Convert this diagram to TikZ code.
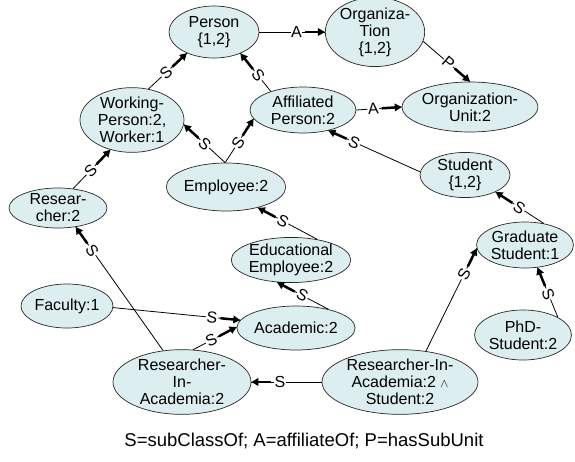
\documentclass[tikz,border=0pt]{standalone}
\usepackage{fontspec}
\setmainfont{Liberation Sans}
\usetikzlibrary{shapes.geometric,arrows.meta,calc}

\definecolor{classfill}{RGB}{221,238,240}
\definecolor{classline}{RGB}{40,40,40}

\tikzset{
  cls/.style={ellipse, draw=classline, line width=0.7pt, fill=classfill,
    inner sep=0pt, align=center, font=\fontsize{16}{17}\selectfont},
  thinlink/.style={line width=0.8pt, black},
  boldlink/.style={line width=2.5pt, black,
    -{Triangle[length=7pt,width=7.5pt]}},
  linklabel/.style={fill=white, inner sep=0.6pt,
    font=\fontsize{16}{16}\selectfont}
}

% thin line from #1 to #2, bold arrowhead part near #2, letter #3 between
\newcommand{\linkrel}[3]{%
  \draw[thinlink] (#1) -- (#2);
  \draw[boldlink] ($(#2)!20pt!(#1)$) -- (#2);
  \path ($(#2)!28.5pt!(#1)$) -- ($(#2)!30pt!(#1)$)
    node[pos=0, sloped, linklabel] {#3};
}

\begin{document}
\begin{tikzpicture}[x=1pt,y=-1pt]
\useasboundingbox (0,0) rectangle (575,461);

% classes
\node[cls, minimum width=90pt, minimum height=52pt] (person) at (214,32) {Person\\\{1,2\}};
\node[cls, minimum width=98pt, minimum height=60pt] (org) at (375,32) {Organiza-\\Tion\\\{1,2\}};
\node[cls, minimum width=104pt, minimum height=56pt] (wp) at (132,120) {Working-\\Person:2,\\Worker:1};
\node[cls, minimum width=106pt, minimum height=46pt] (aff) at (303,110) {Affiliated\\Person:2};
\node[cls, minimum width=114pt, minimum height=50pt] (ou) at (470,107) {Organization-\\Unit:2};
\node[cls, minimum width=114pt, minimum height=48pt] (emp) at (226,187) {Employee:2};
\node[cls, minimum width=98pt, minimum height=40pt] (res) at (58,208) {Resear-\\cher:2};
\node[cls, minimum width=90pt, minimum height=44pt] (stu) at (465,175) {Student\\\{1,2\}};
\node[cls, minimum width=114pt, minimum height=44pt] (edu) at (291,260) {Educational\\Employee:2};
\node[cls, minimum width=106pt, minimum height=44pt] (acad) at (296,328) {Academic:2};
\node[cls, minimum width=92pt, minimum height=44pt] (fac) at (67,306) {Faculty:1};
\node[cls, minimum width=138pt, minimum height=64pt] (ria) at (182,382) {Researcher-\\In-\\Academia:2};
\node[cls, minimum width=156pt, minimum height=64pt] (rias) at (400,382)
  {Researcher-In-\\Academia:2 {\fontsize{13}{13}\selectfont$\wedge$}\\Student:2};
\node[cls, minimum width=96pt, minimum height=46pt] (grad) at (525,245) {Graduate\\Student:1};
\node[cls, minimum width=94pt, minimum height=50pt] (phd) at (523,335) {PhD-\\Student:2};

% relations
\linkrel{person.east}{org.west}{A}
\linkrel{org.-11}{ou.north}{P}
\linkrel{wp.62}{person.-142}{S}
\linkrel{aff.150}{person.-39}{S}
\linkrel{res.52}{wp.-126}{S}
\linkrel{emp.92}{wp.-5}{S}
\linkrel{emp.92}{aff.-170}{S}
\linkrel{aff.east}{ou.west}{A}
\linkrel{stu.176}{aff.-39}{S}
\linkrel{grad.49}{stu.-29}{S}
\linkrel{edu.38}{emp.-33}{S}
\linkrel{acad.30}{edu.-122}{S}
\linkrel{fac.-2}{acad.172}{S}
\linkrel{ria.71}{acad.179}{S}
\linkrel{ria.121}{res.-47}{S}
\linkrel{rias.west}{ria.east}{S}
\linkrel{rias.50}{grad.-176}{S}
\linkrel{phd.27}{grad.-61}{S}

% legend
\node[font=\fontsize{18.5}{19}\selectfont] (legend) at (304,441)
  {S=subClassOf; A=affiliateOf; P=hasSubUnit};
\end{tikzpicture}
\end{document}
